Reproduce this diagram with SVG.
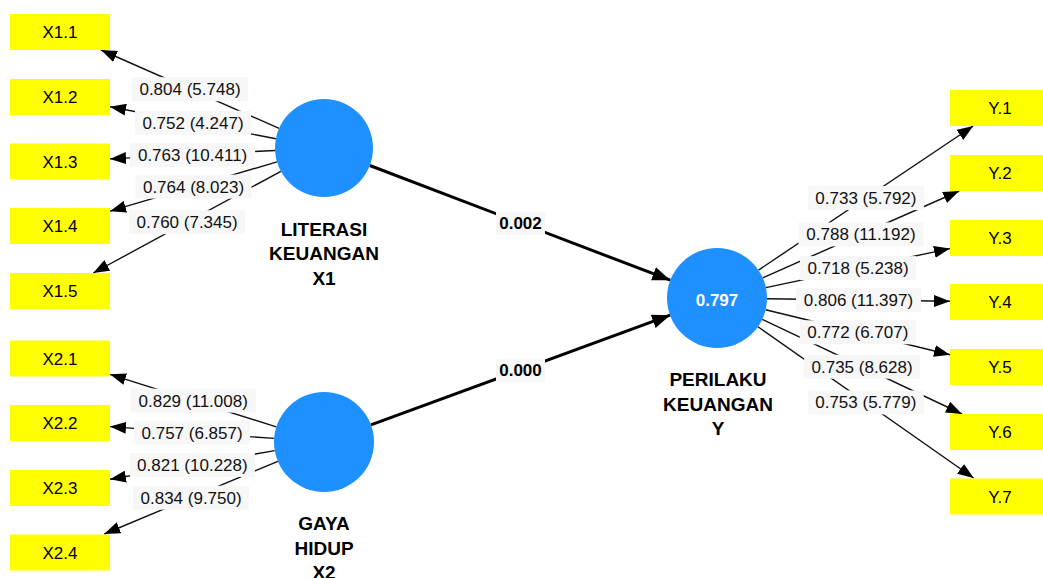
<svg xmlns="http://www.w3.org/2000/svg" width="1043" height="578" viewBox="0 0 1043 578">
<style>
.ind{fill:#ffff00;}
.it{font-family:"Liberation Sans",Arial,sans-serif;font-size:17px;fill:#000;text-anchor:middle;}
.lv{fill:#1e90ff;}
.lt{font-family:"Liberation Sans",Arial,sans-serif;font-size:19px;font-weight:bold;fill:#000;text-anchor:middle;}
.r2{font-family:"Liberation Sans",Arial,sans-serif;font-size:17px;font-weight:bold;fill:#fff;text-anchor:middle;}
.m{stroke:#111;stroke-width:1.4;fill:none;marker-end:url(#a);}
.s{stroke:#000;stroke-width:3;fill:none;marker-end:url(#b);}
.lb{fill:#f7f7f7;}
.lx{font-family:"Liberation Sans",Arial,sans-serif;font-size:17px;fill:#111;text-anchor:middle;}
.sx{font-family:"Liberation Sans",Arial,sans-serif;font-size:17px;font-weight:bold;fill:#000;text-anchor:middle;}
</style>
<defs>
<marker id="a" viewBox="0 0 16 12" markerWidth="16" markerHeight="12" refX="16" refY="6" orient="auto" markerUnits="userSpaceOnUse"><path d="M0,0 L16,6 L0,12 z" fill="#000"/></marker>
<marker id="b" viewBox="0 0 18 14" markerWidth="18" markerHeight="14" refX="18" refY="7" orient="auto" markerUnits="userSpaceOnUse"><path d="M0,0 L18,7 L0,14 z" fill="#000"/></marker>
</defs>
<rect width="1043" height="578" fill="#fff"/>
<g id="connectors">
<line class="m" x1="279.1" y1="128.3" x2="101" y2="50"/>
<line class="m" x1="275.9" y1="138.7" x2="110" y2="106.7"/>
<line class="m" x1="275.1" y1="150.5" x2="110" y2="158.9"/>
<line class="m" x1="277" y1="161.9" x2="110" y2="211.2"/>
<line class="m" x1="280.9" y1="171.3" x2="93.2" y2="273"/>
<line class="m" x1="276.3" y1="426.9" x2="110" y2="374.3"/>
<line class="m" x1="274.1" y1="438.4" x2="110" y2="426.6"/>
<line class="m" x1="274.7" y1="450.6" x2="110" y2="479.3"/>
<line class="m" x1="277.9" y1="461.3" x2="104.2" y2="534"/>
<line class="m" x1="758.5" y1="270.1" x2="973.2" y2="126"/>
<line class="m" x1="762.7" y1="277.8" x2="959.2" y2="191"/>
<line class="m" x1="765.9" y1="287.6" x2="950" y2="248.6"/>
<line class="m" x1="767" y1="298.7" x2="950" y2="301.3"/>
<line class="m" x1="765.6" y1="309.8" x2="950" y2="354.8"/>
<line class="m" x1="762.2" y1="319.4" x2="962" y2="414"/>
<line class="m" x1="757.9" y1="326.7" x2="973.6" y2="478"/>
<line class="s" x1="369.8" y1="165.5" x2="670.3" y2="280.2"/>
<line class="s" x1="370.9" y1="424.8" x2="670.1" y2="315.2"/>
<g id="labels">
<rect class="lb" x="132" y="77.2" width="116" height="24"/><text class="lx" x="190" y="95.2">0.804 (5.748)</text>
<rect class="lb" x="135" y="110.7" width="116" height="24"/><text class="lx" x="193" y="128.7">0.752 (4.247)</text>
<rect class="lb" x="130.1" y="142.7" width="125" height="24"/><text class="lx" x="192.6" y="160.7">0.763 (10.411)</text>
<rect class="lb" x="135.5" y="174.6" width="116" height="24"/><text class="lx" x="193.5" y="192.6">0.764 (8.023)</text>
<rect class="lb" x="129.1" y="210.2" width="116" height="24"/><text class="lx" x="187.1" y="228.2">0.760 (7.345)</text>
<rect class="lb" x="130.7" y="388.6" width="125" height="24"/><text class="lx" x="193.2" y="406.6">0.829 (11.008)</text>
<rect class="lb" x="134.1" y="420.5" width="116" height="24"/><text class="lx" x="192.1" y="438.5">0.757 (6.857)</text>
<rect class="lb" x="129.9" y="453" width="125" height="24"/><text class="lx" x="192.4" y="471">0.821 (10.228)</text>
<rect class="lb" x="133.1" y="485.7" width="116" height="24"/><text class="lx" x="191.1" y="503.7">0.834 (9.750)</text>
<rect class="lb" x="807.9" y="186.1" width="116" height="24"/><text class="lx" x="865.9" y="204.1">0.733 (5.792)</text>
<rect class="lb" x="798.5" y="222.4" width="125" height="24"/><text class="lx" x="861" y="240.4">0.788 (11.192)</text>
<rect class="lb" x="800" y="256.1" width="116" height="24"/><text class="lx" x="858" y="274.1">0.718 (5.238)</text>
<rect class="lb" x="796" y="288" width="125" height="24"/><text class="lx" x="858.5" y="306">0.806 (11.397)</text>
<rect class="lb" x="799.8" y="320.3" width="116" height="24"/><text class="lx" x="857.8" y="338.3">0.772 (6.707)</text>
<rect class="lb" x="804.1" y="354.7" width="116" height="24"/><text class="lx" x="862.1" y="372.7">0.735 (8.628)</text>
<rect class="lb" x="807.8" y="390.4" width="116" height="24"/><text class="lx" x="865.8" y="408.4">0.753 (5.779)</text>
<rect class="lb" x="496" y="212" width="49" height="23"/><text class="sx" x="520.5" y="229.2">0.002</text>
<rect class="lb" x="496" y="359" width="49" height="23"/><text class="sx" x="520.5" y="376.2">0.000</text>
</g>
</g>
<g id="X1.1"><rect class="ind" x="10" y="14" width="100" height="36"/><text class="it" x="60" y="38">X1.1</text></g>
<g id="X1.2"><rect class="ind" x="10" y="79" width="100" height="36"/><text class="it" x="60" y="103">X1.2</text></g>
<g id="X1.3"><rect class="ind" x="10" y="143.5" width="100" height="36"/><text class="it" x="60" y="167.5">X1.3</text></g>
<g id="X1.4"><rect class="ind" x="10" y="208" width="100" height="36"/><text class="it" x="60" y="232">X1.4</text></g>
<g id="X1.5"><rect class="ind" x="10" y="273" width="100" height="36"/><text class="it" x="60" y="297">X1.5</text></g>
<g id="X2.1"><rect class="ind" x="10" y="340.5" width="100" height="36"/><text class="it" x="60" y="364.5">X2.1</text></g>
<g id="X2.2"><rect class="ind" x="10" y="405" width="100" height="36"/><text class="it" x="60" y="429">X2.2</text></g>
<g id="X2.3"><rect class="ind" x="10" y="470" width="100" height="36"/><text class="it" x="60" y="494">X2.3</text></g>
<g id="X2.4"><rect class="ind" x="10" y="534.5" width="100" height="36"/><text class="it" x="60" y="558.5">X2.4</text></g>
<g id="Y.1"><rect class="ind" x="950" y="90" width="100" height="36"/><text class="it" x="1000" y="114">Y.1</text></g>
<g id="Y.2"><rect class="ind" x="950" y="155" width="100" height="36"/><text class="it" x="1000" y="179">Y.2</text></g>
<g id="Y.3"><rect class="ind" x="950" y="220" width="100" height="36"/><text class="it" x="1000" y="244">Y.3</text></g>
<g id="Y.4"><rect class="ind" x="950" y="284" width="100" height="36"/><text class="it" x="1000" y="308">Y.4</text></g>
<g id="Y.5"><rect class="ind" x="950" y="349" width="100" height="36"/><text class="it" x="1000" y="373">Y.5</text></g>
<g id="Y.6"><rect class="ind" x="950" y="414" width="100" height="36"/><text class="it" x="1000" y="438">Y.6</text></g>
<g id="Y.7"><rect class="ind" x="950" y="478.5" width="100" height="36"/><text class="it" x="1000" y="502.5">Y.7</text></g>
<g id="X1"><circle class="lv" cx="324" cy="148" r="49"/>
<text class="lt" x="324" y="235.5">LITERASI</text><text class="lt" x="324" y="260">KEUANGAN</text><text class="lt" x="324" y="284.5">X1</text></g>
<g id="X2"><circle class="lv" cx="324" cy="442" r="50"/>
<text class="lt" x="324" y="530">GAYA</text><text class="lt" x="324" y="554.5">HIDUP</text><text class="lt" x="324" y="579">X2</text></g>
<g id="Y"><circle class="lv" cx="717" cy="298" r="50"/>
<text class="r2" x="717" y="305.5">0.797</text>
<text class="lt" x="718" y="386">PERILAKU</text><text class="lt" x="718" y="410.5">KEUANGAN</text><text class="lt" x="718" y="434.5">Y</text></g>
</svg>
